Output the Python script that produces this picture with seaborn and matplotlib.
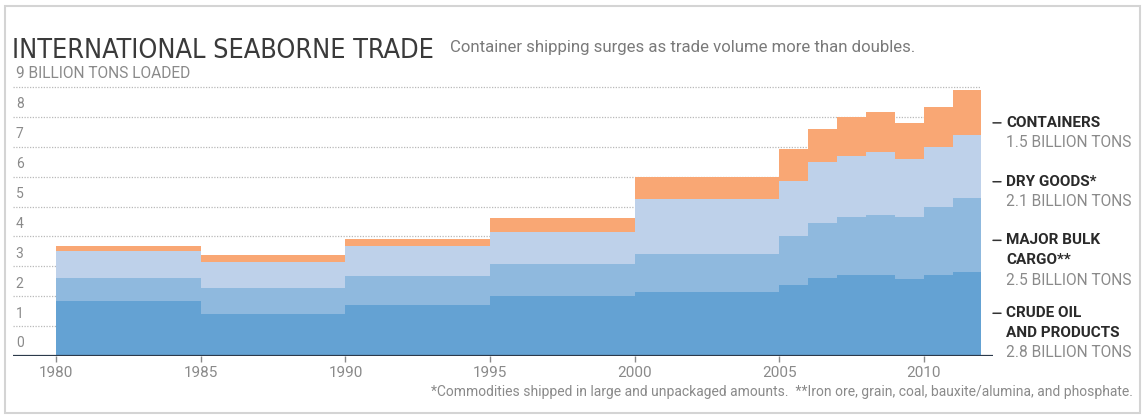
import numpy as np
import pandas as pd
import matplotlib
matplotlib.use("Agg")
import matplotlib.pyplot as plt
import seaborn as sns
from matplotlib.patches import Rectangle

# Billion tons loaded, by cargo type; each value holds until the next year listed
years = [1980, 1985, 1990, 1995, 2000, 2005, 2006, 2007, 2008, 2009, 2010, 2011]
end_year = 2012
crude = [1.84, 1.42, 1.72, 2.00, 2.13, 2.37, 2.62, 2.70, 2.70, 2.57, 2.70, 2.80]
bulk = [0.76, 0.87, 0.95, 1.08, 1.28, 1.66, 1.82, 1.94, 2.03, 2.07, 2.28, 2.50]
dry = [0.91, 0.86, 1.02, 1.08, 1.85, 1.84, 2.04, 2.06, 2.08, 1.95, 2.00, 2.10]
containers = [0.17, 0.22, 0.24, 0.47, 0.72, 1.05, 1.13, 1.28, 1.37, 1.22, 1.35, 1.50]

categories = ["Containers", "Dry goods", "Major bulk cargo", "Crude oil and products"]
label_heads = [["CONTAINERS"], ["DRY GOODS*"], ["MAJOR BULK", "CARGO**"],
               ["CRUDE OIL", "AND PRODUCTS"]]
latest = [1.5, 2.1, 2.5, 2.8]
label_y = [7.8, 5.83, 3.87, 1.43]
y_ticks = [0, 1, 2, 3, 4, 5, 6, 7, 8, 9]
x_ticks = [1980, 1985, 1990, 1995, 2000, 2005, 2010]

palette = {
    "Containers": "#f9a774",
    "Dry goods": "#bed1ea",
    "Major bulk cargo": "#8fb9de",
    "Crude oil and products": "#64a2d3",
}

df = pd.DataFrame({
    "year": years * 4,
    "tons": containers + dry + bulk + crude,
    "category": np.repeat(categories, len(years)),
})

sns.set_theme(style="white")
plt.rcParams["font.family"] = ["Roboto", "DejaVu Sans"]

W, H = 1147, 419
fig = plt.figure(figsize=(W / 100, H / 100), dpi=100)
fig.patch.set_facecolor("white")
renderer = fig.canvas.get_renderer()


def fit_width(text, width_px):
    """Rescale a text's font size so it spans the given width in pixels."""
    w = text.get_window_extent(renderer=renderer).width
    text.set_fontsize(text.get_fontsize() * width_px / w)


ax_left, ax_right, ax_bottom, ax_top = 13, 993, 356, 87
ax = fig.add_axes([ax_left / W, 1 - ax_bottom / H,
                   (ax_right - ax_left) / W, (ax_bottom - ax_top) / H])

sns.histplot(data=df, x="year", weights="tons", hue="category",
             hue_order=categories, bins=years + [end_year], multiple="stack",
             element="step", fill=True, alpha=1, linewidth=0,
             palette=palette, legend=False, ax=ax)

ax.set_xlim(1978.5, 2012.4)
ax.set_ylim(0, 9)
ax.set_xlabel("")
ax.set_ylabel("")
for s in ax.spines.values():
    s.set_visible(False)

# dotted guide lines behind the areas
ax.hlines(y_ticks[1:], 1978.5, end_year, colors="#b9b9b9",
          linestyles=(0, (1, 1.2)), linewidth=0.9, zorder=0.5, clip_on=False)
ax.axhline(0, color="#2c3a4b", linewidth=1.6, zorder=3)

ax.set_xticks(x_ticks)
ax.set_xticklabels([str(x) for x in x_ticks])
ax.tick_params(axis="x", bottom=True, length=4, width=1, color="#8a8a8a",
               labelsize=11, labelcolor="#8a8a8a", pad=3)
ax.set_yticks([])

for v in y_ticks:
    txt = "9 BILLION TONS LOADED" if v == 9 else str(v)
    t = ax.annotate(txt, xy=(0, v), xycoords=("axes fraction", "data"),
                    xytext=(2, 4), textcoords="offset points",
                    ha="left", va="bottom", fontsize=10, color="#8a8a8a")
    if v == 9:
        fit_width(t, 174)

# right-hand labels with the latest year's tonnage
for heads, val, yv in zip(label_heads, latest, label_y):
    ax.annotate("", xy=(1.0, yv), xycoords=("axes fraction", "data"),
                xytext=(1.0 + 8 / 980, yv),
                textcoords=("axes fraction", "data"),
                arrowprops=dict(arrowstyle="-", color="#333333", lw=1.1,
                                shrinkA=0, shrinkB=0),
                annotation_clip=False)
    lines = heads + [f"{val} BILLION TONS"]
    for i, line in enumerate(lines):
        is_head = i < len(heads)
        ax.annotate(line, xy=(1.0 + 13 / 980, yv),
                    xycoords=("axes fraction", "data"),
                    xytext=(0, -14.3 * i), textcoords="offset points",
                    ha="left", va="center", annotation_clip=False,
                    fontsize=11 if is_head else 11.2,
                    fontweight="bold" if is_head else "normal",
                    color="#2a2a2a" if is_head else "#8a8a8a")

title = fig.text(12 / W, 1 - 58 / H, "INTERNATIONAL SEABORNE TRADE",
                 family=["DejaVu Sans"], fontstretch="condensed", fontsize=20,
                 color="#3a3a3a", ha="left", va="baseline")
fit_width(title, 424)
sub = fig.text(450 / W, 1 - 52 / H,
               "Container shipping surges as trade volume more than doubles.",
               fontsize=11, color="#7a7a7a", ha="left", va="baseline")
fit_width(sub, 465)
foot = fig.text(1133 / W, 1 - 392 / H,
                "*Commodities shipped in large and unpackaged amounts.  "
                "**Iron ore, grain, coal, bauxite/alumina, and phosphate.",
                fontsize=9, color="#8a8a8a", ha="right", va="center")
fit_width(foot, 705)

fig.patches.append(Rectangle((5 / W, 6 / H), (1140 - 5) / W, (413 - 6) / H,
                             transform=fig.transFigure, fill=False,
                             edgecolor="#d4d4d4", linewidth=1.5))

fig.savefig("out.png", dpi=100, facecolor="white")
